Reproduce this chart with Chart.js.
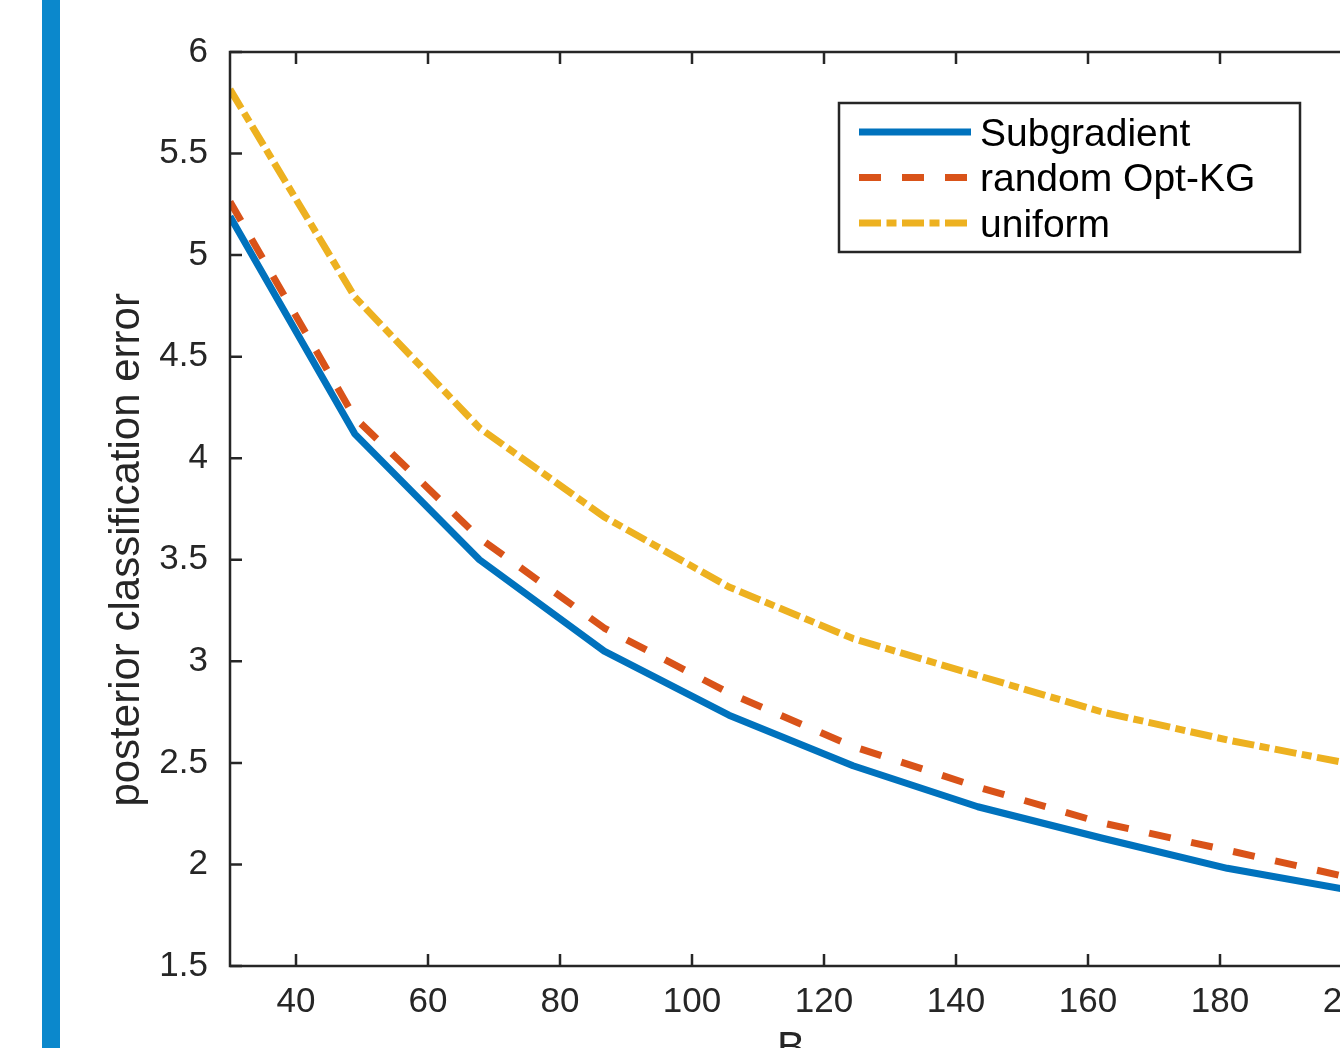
<!DOCTYPE html>
<html>
<head>
<meta charset="utf-8">
<script src="https://cdn.jsdelivr.net/npm/chart.js@4.4.1/dist/chart.umd.min.js"></script>
<style>
  html, body { margin: 0; padding: 0; width: 1340px; height: 1048px; overflow: hidden; background: #fff; }
  #bar { position: absolute; left: 42px; top: 0; width: 18px; height: 1048px; background: #0b88cc; }
  #wrap { position: absolute; left: 0; top: 0; width: 1400px; height: 1100px; }
</style>
</head>
<body>
<div id="bar"></div>
<div id="wrap"><canvas id="errChart" width="1400" height="1100"></canvas></div>
<script>
// budget B (x) and posterior classification error per method
const budget = [30, 48.9, 67.8, 86.7, 105.6, 124.4, 143.3, 162.2, 181.1, 200];
const subgradient = [5.19, 4.12, 3.50, 3.05, 2.735, 2.486, 2.284, 2.129, 1.981, 1.872];
const randomOptKG = [5.263, 4.20, 3.607, 3.164, 2.844, 2.581, 2.381, 2.204, 2.07, 1.933];
const uniform = [5.816, 4.794, 4.149, 3.711, 3.366, 3.112, 2.93, 2.75, 2.613, 2.494];
const seriesNames = ["Subgradient", "random Opt-KG", "uniform"];
const xTicks = [40, 60, 80, 100, 120, 140, 160, 180, 200];
const yTicks = [1.5, 2, 2.5, 3, 3.5, 4, 4.5, 5, 5.5, 6];

const FONT = '"Liberation Sans", Arial, Helvetica, sans-serif';
const AXIS = '#262626';
Chart.defaults.font.family = FONT;
Chart.defaults.color = AXIS;

const toPoints = vals => budget.map((b, i) => ({ x: b, y: vals[i] }));

// MATLAB-like box with inward ticks
const axesBox = {
  id: 'axesBox',
  afterDatasetsDraw(chart) {
    const { ctx, chartArea: a, scales: { x, y } } = chart;
    const tl = 12;
    ctx.save();
    ctx.strokeStyle = AXIS;
    ctx.lineWidth = 2.5;
    ctx.strokeRect(a.left, a.top, a.right - a.left, a.bottom - a.top);
    ctx.beginPath();
    x.ticks.forEach(t => {
      const px = x.getPixelForValue(t.value);
      ctx.moveTo(px, a.bottom); ctx.lineTo(px, a.bottom - tl);
      ctx.moveTo(px, a.top); ctx.lineTo(px, a.top + tl);
    });
    y.ticks.forEach(t => {
      const py = y.getPixelForValue(t.value);
      ctx.moveTo(a.left, py); ctx.lineTo(a.left + tl, py);
      ctx.moveTo(a.right, py); ctx.lineTo(a.right - tl, py);
    });
    ctx.stroke();
    ctx.restore();
  }
};

// boxed legend inside the axes, top right
const legendBox = {
  id: 'legendBox',
  afterDraw(chart) {
    const { ctx, chartArea: a } = chart;
    const x0 = a.left + 609, y0 = a.top + 51, w = 461, h = 149;
    ctx.save();
    ctx.fillStyle = '#fff';
    ctx.fillRect(x0, y0, w, h);
    ctx.strokeStyle = AXIS;
    ctx.lineWidth = 2.5;
    ctx.strokeRect(x0, y0, w, h);
    chart.data.datasets.forEach((ds, i) => {
      const ly = y0 + 29 + i * 45.5;
      ctx.strokeStyle = ds.borderColor;
      ctx.lineWidth = ds.borderWidth;
      ctx.setLineDash(ds.borderDash || []);
      ctx.beginPath();
      ctx.moveTo(x0 + 20, ly);
      ctx.lineTo(x0 + 132, ly);
      ctx.stroke();
      ctx.setLineDash([]);
      ctx.fillStyle = '#000';
      ctx.font = '39px ' + FONT;
      ctx.textBaseline = 'middle';
      ctx.textAlign = 'left';
      ctx.fillText(ds.label, x0 + 141, ly + 3);
    });
    ctx.restore();
  }
};

new Chart('errChart', {
  type: 'line',
  data: {
    datasets: [
      { label: seriesNames[0], data: toPoints(subgradient), borderColor: '#0072bd', borderWidth: 7, borderDash: [] },
      { label: seriesNames[1], data: toPoints(randomOptKG), borderColor: '#d95319', borderWidth: 7, borderDash: [22, 21] },
      { label: seriesNames[2], data: toPoints(uniform), borderColor: '#edb120', borderWidth: 7, borderDash: [22, 5.5, 10, 5.5] }
    ]
  },
  options: {
    responsive: false,
    animation: false,
    layout: { padding: { left: 80, top: 52, right: 48, bottom: 0 } },
    elements: {
      point: { radius: 0 },
      line: { tension: 0, fill: false, borderJoinStyle: 'round', borderCapStyle: 'butt' }
    },
    plugins: { legend: { display: false }, tooltip: { enabled: false } },
    scales: {
      x: {
        type: 'linear', min: 30, max: 200,
        grid: { display: false, drawTicks: false },
        border: { display: false },
        afterBuildTicks: s => { s.ticks = xTicks.map(v => ({ value: v })); },
        afterFit: s => { s.height = 134; s.paddingLeft = 0; s.paddingRight = 0; },
        ticks: { autoSkip: false, maxRotation: 0, padding: 15, font: { size: 35 }, color: AXIS, callback: v => String(v) },
        title: { display: true, text: 'B', font: { size: 42 }, color: AXIS, padding: { top: 0, bottom: 25 } }
      },
      y: {
        type: 'linear', min: 1.5, max: 6,
        grid: { display: false, drawTicks: false },
        border: { display: false },
        afterBuildTicks: s => { s.ticks = yTicks.map(v => ({ value: v })); },
        afterFit: s => { s.width = 150; s.paddingTop = 0; s.paddingBottom = 0; },
        ticks: { autoSkip: false, padding: 22, font: { size: 35 }, color: AXIS, callback: v => String(v) },
        title: { display: true, text: 'posterior classification error\u00a0\u00a0\u00a0\u00a0\u00a0\u00a0\u00a0', font: { size: 42 }, color: AXIS, padding: { top: 22, bottom: 0 } }
      }
    }
  },
  plugins: [axesBox, legendBox]
});
</script>
</body>
</html>
